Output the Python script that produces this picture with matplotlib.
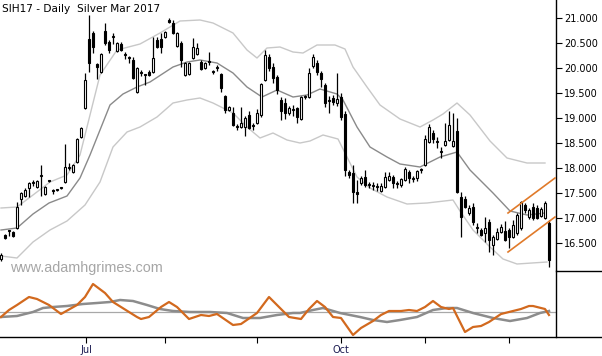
import numpy as np
import matplotlib.pyplot as plt
from matplotlib.lines import Line2D

# daily OHLC, SIH17, early Jun -> mid Dec 2016
opens = [16.18, 16.66, 16.74, 16.72, 16.80, 17.38, 17.44, 17.60, 17.70, 17.62,
         17.84, 17.48, 17.74, 17.56, 17.56, 17.60, 17.72, 18.00, 17.92, 18.12,
         18.62, 19.20, 20.58, 20.70, 20.08, 19.92, 20.74, 20.52, 20.62, 20.34,
         20.48, 20.26, 20.20, 20.16, 19.52, 19.90, 19.86, 19.92, 19.92, 20.56,
         20.58, 20.62, 20.96, 20.90, 20.44, 20.50, 19.86, 19.88, 20.20, 20.28,
         20.12, 20.00, 20.14, 19.92, 20.00, 19.88, 19.44, 19.16, 19.10, 18.82,
         18.82, 18.82, 19.06, 18.86, 18.90, 19.06, 19.76, 20.22, 20.02, 19.82,
         19.36, 19.30, 19.10, 19.16, 19.20, 18.98, 19.42, 19.42, 20.04, 20.10,
         19.90, 19.66, 19.34, 19.40, 19.30, 19.42, 19.08, 17.92, 17.90, 17.52,
         17.70, 17.82, 17.66, 17.64, 17.62, 17.54, 17.62, 17.76, 17.82, 17.68,
         17.66, 17.76, 17.92, 17.78, 17.80, 17.96, 18.06, 18.52, 18.70, 18.52,
         18.32, 18.46, 18.56, 18.44, 18.74, 17.42, 17.38, 17.10, 17.22, 16.80,
         16.76, 16.70, 16.92, 16.46, 16.58, 16.72, 16.74, 16.76, 16.62, 16.70,
         16.80, 17.26, 17.02, 17.22, 17.20, 17.04, 17.00, 16.90]
highs = [16.30, 16.68, 16.76, 16.74, 17.32, 17.52, 17.60, 17.72, 17.76, 17.76,
         18.06, 17.64, 17.76, 17.58, 17.58, 17.62, 18.48, 18.10, 18.08, 18.60,
         18.82, 19.90, 21.06, 20.74, 20.10, 20.30, 20.90, 20.56, 20.70, 20.52,
         20.52, 20.32, 20.24, 20.22, 20.02, 19.96, 19.88, 19.96, 20.62, 20.62,
         20.70, 20.74, 21.00, 20.96, 20.72, 20.54, 20.12, 20.12, 20.60, 20.50,
         20.16, 20.12, 20.32, 19.96, 20.06, 19.90, 19.46, 19.24, 19.22, 18.88,
         19.22, 19.04, 19.14, 18.90, 19.18, 19.70, 20.36, 20.28, 20.10, 19.86,
         19.42, 19.40, 19.24, 19.26, 19.22, 19.44, 19.46, 20.00, 20.28, 20.16,
         19.94, 19.70, 19.44, 19.46, 19.90, 19.50, 19.14, 17.96, 18.06, 17.76,
         17.84, 17.96, 17.72, 17.72, 17.70, 17.70, 17.92, 17.92, 17.86, 17.74,
         17.80, 18.02, 17.96, 17.84, 17.96, 18.00, 18.66, 18.88, 18.76, 18.62,
         18.42, 18.90, 19.14, 19.10, 19.00, 17.52, 17.44, 17.26, 17.30, 16.90,
         16.80, 17.02, 16.98, 16.66, 16.80, 16.88, 16.94, 16.80, 16.96, 17.10,
         17.34, 17.30, 17.20, 17.30, 17.26, 17.22, 17.34, 16.96]
lows = [16.14, 16.58, 16.64, 16.62, 16.78, 17.26, 17.42, 17.42, 17.64, 17.60,
        17.44, 17.46, 17.72, 17.48, 17.54, 17.58, 17.70, 17.96, 17.90, 18.10,
        18.60, 19.18, 19.92, 20.30, 19.78, 19.90, 20.46, 20.30, 20.48, 20.32,
        20.34, 20.18, 20.10, 19.78, 19.50, 19.84, 19.66, 19.84, 19.90, 20.40,
        20.30, 20.60, 20.90, 20.68, 20.42, 20.02, 19.84, 19.86, 20.18, 20.26,
        19.96, 19.98, 20.06, 19.88, 19.94, 19.52, 19.10, 19.14, 18.84, 18.76,
        18.80, 18.64, 18.78, 18.76, 18.88, 19.02, 19.74, 19.94, 19.70, 19.48,
        18.96, 18.98, 19.06, 19.04, 18.90, 18.96, 19.38, 19.40, 20.00, 19.86,
        19.62, 19.22, 19.10, 19.26, 19.24, 18.96, 17.84, 17.80, 17.30, 17.30,
        17.66, 17.62, 17.60, 17.56, 17.54, 17.52, 17.60, 17.74, 17.60, 17.60,
        17.62, 17.74, 17.70, 17.72, 17.74, 17.90, 18.04, 18.50, 18.50, 18.40,
        18.20, 18.44, 18.54, 18.42, 17.50, 16.62, 17.20, 17.06, 16.86, 16.70,
        16.64, 16.52, 16.32, 16.26, 16.56, 16.70, 16.54, 16.40, 16.60, 16.66,
        16.76, 17.10, 16.98, 16.96, 16.98, 17.02, 16.98, 16.02]
closes = [16.26, 16.60, 16.74, 16.64, 17.22, 17.50, 17.56, 17.70, 17.72, 17.74,
          17.86, 17.62, 17.74, 17.54, 17.57, 17.61, 18.02, 18.02, 18.06, 18.58,
          18.80, 19.76, 20.10, 20.42, 20.02, 20.28, 20.50, 20.36, 20.64, 20.50,
          20.36, 20.26, 20.20, 19.80, 20.00, 19.92, 19.86, 19.86, 20.20, 20.42,
          20.42, 20.72, 20.92, 20.70, 20.70, 20.16, 20.10, 20.10, 20.42, 20.40,
          19.98, 20.10, 20.12, 19.92, 20.00, 19.60, 19.16, 19.22, 18.86, 18.84,
          18.90, 19.00, 18.80, 18.84, 19.10, 19.68, 20.26, 20.00, 19.80, 19.56,
          19.14, 19.10, 19.20, 19.16, 19.02, 19.42, 19.43, 19.90, 20.22, 19.92,
          19.78, 19.30, 19.36, 19.32, 19.38, 19.02, 17.96, 17.86, 17.52, 17.48,
          17.80, 17.66, 17.67, 17.65, 17.62, 17.64, 17.82, 17.84, 17.70, 17.68,
          17.78, 17.98, 17.80, 17.78, 17.94, 17.96, 18.58, 18.82, 18.58, 18.52,
          18.32, 18.54, 18.86, 18.54, 17.52, 17.02, 17.22, 17.20, 16.92, 16.80,
          16.66, 16.80, 16.56, 16.62, 16.72, 16.82, 16.56, 16.62, 16.86, 17.06,
          17.32, 17.16, 17.16, 17.00, 17.00, 17.18, 17.30, 16.16]

# channel bands (bar index, price)
mid_x = [0, 4, 8, 12, 16.5, 19.75, 22.25, 24.75, 27.25, 30.5, 34, 37.25, 43, 46.5,
         49.75, 54, 58, 61.5, 65.25, 69, 73, 76.5, 79.75, 84, 85.5, 89, 92.25,
         96.5, 99.75, 104.75, 109.75, 114, 117.25, 123, 127.25, 131.5, 136]
mid_band = [16.76, 16.80, 17.08, 17.30, 17.44, 17.80, 18.26, 18.76, 19.26, 19.48,
            19.62, 19.72, 20.02, 20.12, 20.16, 20.10, 19.90, 19.62, 19.42, 19.56,
            19.42, 19.46, 19.58, 19.48, 19.36, 18.82, 18.42, 18.22, 18.08, 18.02,
            18.22, 18.32, 17.96, 17.50, 17.14, 17.06, 17.10]
up_x = [0, 4, 8, 12.25, 16.5, 19.75, 22.25, 24.75, 29, 34.75, 39.75, 44.75, 49.75,
        53, 58, 61.5, 64, 66.5, 69.75, 73, 75.5, 79, 83.5, 86, 88, 91.5, 94.75,
        99.75, 104.75, 108, 110.5, 114, 117.25, 122.25, 126.5, 131.5, 136]
up_band = [17.20, 17.22, 17.46, 17.72, 17.86, 18.26, 19.06, 19.86, 20.36, 20.48,
           20.70, 20.94, 20.96, 20.90, 20.70, 20.36, 20.20, 20.40, 20.42, 20.32,
           20.30, 20.46, 20.46, 20.38, 20.02, 19.62, 19.26, 18.98, 18.82, 18.96,
           19.08, 19.30, 19.06, 18.54, 18.20, 18.10, 18.10]
lo_x = [0, 4, 8, 12.25, 16.5, 21, 24.75, 28, 31.5, 34.75, 39, 43, 46.5, 49.75, 53,
        58, 61.5, 64.75, 68, 71.5, 74.75, 77.25, 80.5, 84.25, 86, 89, 92.25, 96.5,
        101.5, 106.5, 113, 114.75, 118, 122.25, 125.5, 129, 136.5]
lo_band = [16.24, 16.20, 16.52, 16.76, 16.94, 17.26, 17.72, 18.42, 18.72, 18.82,
           19.02, 19.30, 19.36, 19.40, 19.30, 19.10, 18.82, 18.60, 18.70, 18.56,
           18.50, 18.54, 18.66, 18.58, 18.30, 17.82, 17.60, 17.42, 17.28, 17.30,
           17.36, 17.14, 16.76, 16.42, 16.18, 16.08, 16.12]

# hand-drawn channel
chan_x = [126.75, 138.5]
chan_upper = [17.10, 17.80]
chan_lower = [16.32, 17.02]

# oscillator panel
osc_fast_x = [0, 2, 4, 7, 9, 12, 15, 19, 21, 23, 26, 28, 32, 34, 35, 37, 40, 42, 44,
              47, 50, 52, 54, 58, 60, 64, 67, 69, 72, 75, 77, 79, 81, 83, 85, 88, 90,
              93, 95, 97, 100, 102, 104, 106, 108, 110, 112, 113, 116, 118, 120, 122,
              125, 127, 130, 132, 133, 135, 136, 137]
osc_fast = [-5, 2, 7, 15, 13, 7, -2, 7, 15, 28, 19, 10, 0, -5, -7, -5, 5, 10, 5,
            -7, -3, -4, -2, -13, -12, -1, 15, 7, -5, -7, 3, 11, 5, -5, -6, -23, -16,
            -9, -3, 1, 1, 2, 1, 5, 11, 5, 3, 4, -20, -15, -14, -10,
            -2, 0, 3, 6, 6, 4, 3, -3]
osc_slow_x = [0, 4, 8, 10.5, 13, 16.5, 20.5, 24, 27.25, 29.75, 33, 36.5, 39.75, 43,
              47.25, 52.25, 56.5, 60.5, 64.75, 69, 73, 74.75, 78, 80.5, 84.75, 89.75,
              93, 96.5, 99.75, 104, 108, 111.5, 114, 118, 123, 127.25, 131.5, 134.75, 137]
osc_slow = [-5, -4, 0, 4, 5, 6, 8, 9, 10, 12, 11, 7, 3, 1, 0, 0, -1, -6, -6, -3,
            -1, -1, 2, 4, -1, -5, -8, -10, -8, -5, 2, 4, 4, -1, -6, -9, -6, -1, 1]

month_ticks = [21.25, 41, 64, 85, 106, 127]
month_labels = ['Jul', '', '', 'Oct', '', '']
price_ticks = [16.5, 17.0, 17.5, 18.0, 18.5, 19.0, 19.5, 20.0, 20.5, 21.0]

W, H = 602, 356
fig = plt.figure(figsize=(W / 100, H / 100), dpi=100)
ax = fig.add_axes([0, 1 - 271 / H, 556 / W, 271 / H])
ax2 = fig.add_axes([0, 1 - 337 / H, 556 / W, 66 / H])

o = np.array(opens); hi = np.array(highs); lo = np.array(lows); c = np.array(closes)
x = np.arange(len(o))
up = c >= o
body_lo = np.minimum(o, c)
body_h = np.maximum(np.abs(c - o), 0.02)

ax.plot(up_x, up_band, color='#c8c8c8', lw=1, zorder=1)
ax.plot(lo_x, lo_band, color='#c8c8c8', lw=1, zorder=1)
ax.plot(mid_x, mid_band, color='#8a8a8a', lw=1, zorder=1)

ax.vlines(x, lo, hi, color='black', lw=0.9, zorder=2)
ax.bar(x[up], body_h[up], bottom=body_lo[up], width=0.7, facecolor='white',
       edgecolor='black', linewidth=0.8, zorder=3)
ax.bar(x[~up], body_h[~up], bottom=body_lo[~up], width=0.7, facecolor='black',
       edgecolor='black', linewidth=0.8, zorder=3)

ax.plot(chan_x, chan_upper, color='#e07a2a', lw=1.2, zorder=4)
ax.plot(chan_x, chan_lower, color='#e07a2a', lw=1.2, zorder=4)

ax.set_xlim(-0.25, 138.75)
ax.set_ylim(15.94, 21.36)
ax.set_xticks([])
ax.yaxis.tick_right()
ax.set_yticks(price_ticks)
ax.set_yticklabels(['%.3f' % p for p in price_ticks])
ax.tick_params(axis='y', direction='out', length=4, width=0.8, labelsize=7, pad=2)
for s in ['left', 'top', 'bottom']:
    ax.spines[s].set_visible(False)
ax.spines['right'].set_linewidth(1)

ax2.axhline(0, color='#a8a8a8', lw=0.9, zorder=1)
ax2.plot(osc_slow_x, osc_slow, color='#8c8c8c', lw=1.8, zorder=2)
ax2.plot(osc_fast_x, osc_fast, color='#d2691e', lw=1.6, zorder=3)
ax2.set_xlim(-0.25, 138.75)
ax2.set_ylim(-25, 41)
ax2.set_yticks([])
ax2.set_xticks(month_ticks)
ax2.set_xticklabels(month_labels)
ax2.tick_params(axis='x', direction='out', length=4, width=0.8, labelsize=7,
                labelcolor='#1a1a50', pad=2)
for s in ['left', 'top', 'bottom']:
    ax2.spines[s].set_visible(False)
ax2.spines['right'].set_linewidth(1)

fig.add_artist(Line2D([0, 1], [1 - 337 / H, 1 - 337 / H], color='black', lw=1))
fig.add_artist(Line2D([556 / W, 1], [1 - 271 / H, 1 - 271 / H], color='black', lw=1))

fig.text(2 / W, 1 - 9 / H, 'SIH17 - Daily  Silver Mar 2017', fontsize=7.6, va='center', ha='left')
fig.text(10 / W, 1 - 268 / H, 'www.adamhgrimes.com', fontsize=10.4, color='#a6a6a6',
         va='center', ha='left', family='Liberation Sans')

fig.savefig('out.png', dpi=100)
